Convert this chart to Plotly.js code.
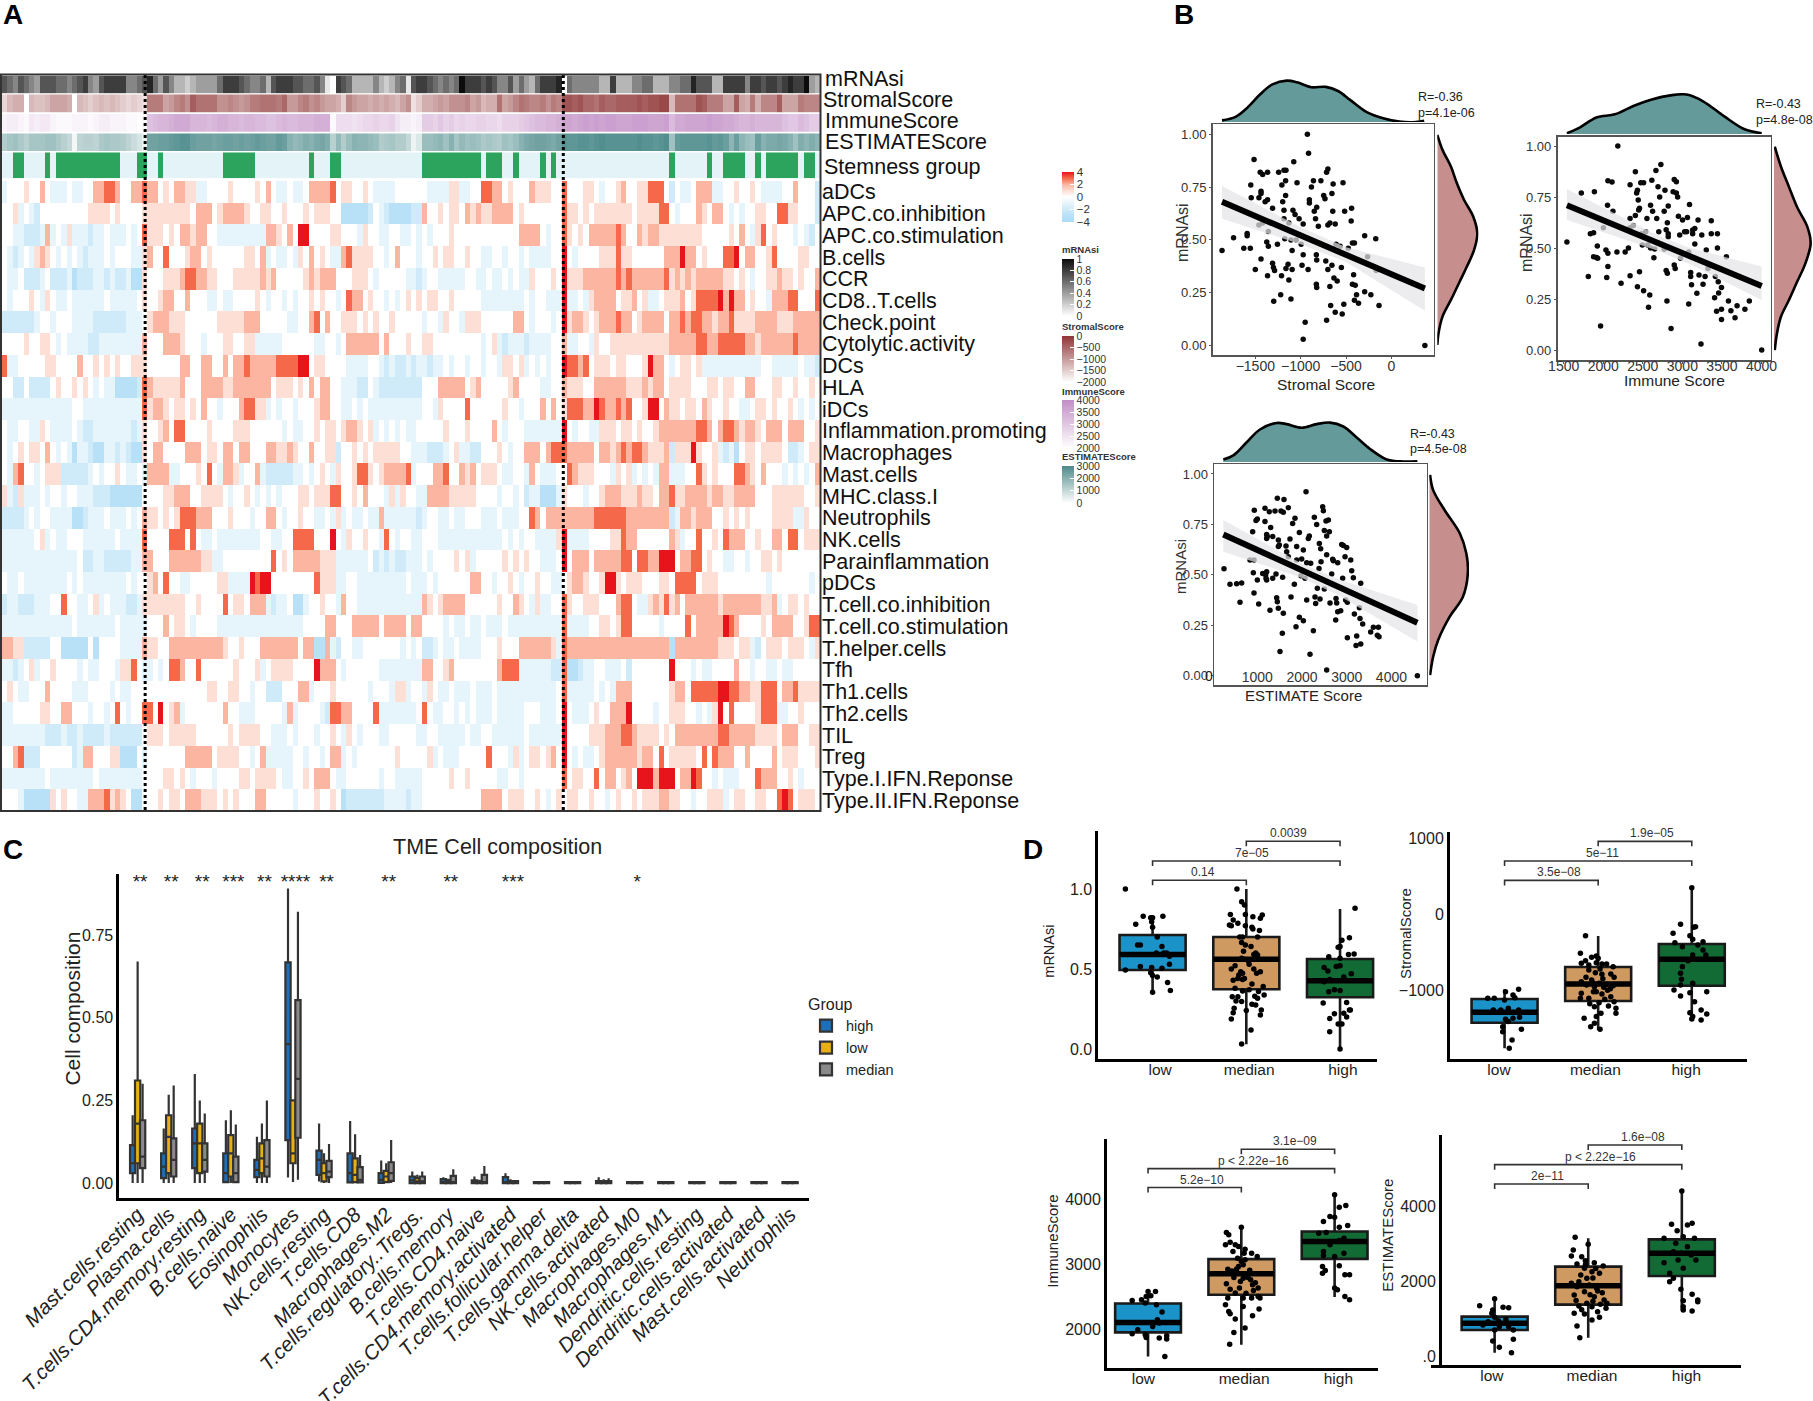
<!DOCTYPE html>
<html><head><meta charset="utf-8">
<script src="https://cdn.plot.ly/plotly-3.0.1.min.js"></script>
<style>html,body{margin:0;padding:0;background:#fff}</style></head>
<body><div id="chart" style="width:1813px;height:1401px"></div>
<script>
// ---------- Panel A: annotation rows (one value per sample) ----------
const mRNAsiTenths=[7,6,5,7,6,5,4,7,7,7, 6,6,5,6,7,8,5,4,7,8, 8,8,8,5,5,6,7,9,6,4, 7,5,3,3,2,3,4,4,4,4, 6,8,8,8,7,6,5,5,6,3, 7,8,8,8,7,7,6,6,7,5, 1,0,8,7,6,3,3,3,3,5, 3,2,3,5,6,1,7,8,8,7, 6,5,6,5,6,10,8,8,8,7, 8,7,5,5,7,4,6,4,3,6, 8,8,8,9,0,6,5,5,5,5, 5,3,3,8,3,3,3,5,5,6, 6,3,3,3,5,5,6,6,9,7, 7,7,3,3,8,8,8,8,5,8, 8,7,8,8,7,8,9,8,8,10,4,3];
const stromalHundreds=[-16,-13,-12,-12,-20,-13,-14,-14,-13,-11, -11,-11,-12,-20,-13,-14,-15,-14,-13,-14, -13,-14,-15,-16,-15,-16,-17,-7,-7,-7, -11,-10,-8,-7,-9,-4,-6,-6,-6,-6, -9,-9,-8,-9,-10,-9,-7,-7,-6,-6, -6,-7,-5,-10,-10,-8,-7,-9,-8,-10, -11,-11,-12,-15,-8,-10,-11,-11,-12,-11, -12,-11,-12,-13,-11,-9,-17,-15,-12,-12, -11,-10,-11,-9,-9,-9,-8,-11,-10,-13, -12,-12,-6,-11,-10,-8,-6,-7,-8,-8, -7,-9,-7,-8,-3,-3,-4,-3,-5,-5, -6,-4,-5,-5,-4,-4,-4,-4,-3,-4, -3,-3,-2,-2,-13,-6,-6,-6,-6,-3, -4,-7,-7,-7,-11,-11,-4,-11,-12,-7, -12,-8,-8,-8,-4,-11,-11,-11,-7,-8,-8,-8];
const immuneHundreds=[22,23,23,22,21,24,23,24,24,22, 21,21,21,22,22,22,21,22,23,23, 22,22,22,21,21,20,21,31,32,33, 33,34,35,35,35,33,33,33,32,33, 34,34,33,33,32,33,33,32,32,31, 31,32,33,32,32,33,33,33,34,34, 34,21,26,26,26,25,26,27,27,28, 27,27,28,25,23,23,22,23,29,29, 28,30,28,29,27,28,27,27,28,28, 27,27,26,28,28,28,29,30,31,32, 32,33,33,34,36,36,35,36,37,36, 37,36,37,37,36,36,36,37,37,37, 36,36,36,37,32,35,35,36,36,36, 36,37,36,36,35,35,34,33,33,34, 33,33,33,33,33,31,30,30,32,31,29,29];
const estimateHundreds=[13,15,16,14,12,15,15,15,16,16, 14,12,10,2,11,12,12,11,14,15, 14,14,13,11,9,7,3,24,24,25, 25,26,27,28,28,25,24,24,24,23, 24,25,25,24,25,24,25,26,25,24, 24,26,25,20,18,19,21,20,22,23, 21,12,18,13,17,20,19,19,18,17, 13,14,15,13,13,10,3,6,17,17, 18,19,16,20,15,18,16,17,16,14, 15,14,13,16,15,17,20,22,23,24, 24,23,22,24,28,27,27,28,28,27, 28,29,28,28,28,28,28,28,29,28, 28,27,28,29,16,26,27,27,27,27, 27,28,26,27,25,19,25,19,17,16, 25,20,22,22,23,22,20,16,21,19,21,19];
const stemnessGroup=[0,0,1,1,0,0,0,0,1,0, 1,1,1,1,1,1,1,1,1,1, 1,1,0,0,0,1,1,0,0,1, 0,0,0,0,0,0,0,0,0,0, 0,1,1,1,1,1,1,0,0,0, 0,0,0,0,0,0,0,1,0,0, 0,1,1,0,0,0,0,0,0,0, 0,0,0,0,0,0,0,0,1,1, 1,1,1,1,1,1,1,1,1,0, 1,1,1,0,0,1,0,0,0,0, 1,0,1,0,0,0,0,0,0,0, 0,0,0,0,0,0,0,0,0,0, 0,0,0,0,1,0,0,0,0,0, 0,1,0,0,1,1,1,1,0,0, 1,0,1,1,1,1,1,1,0,1,1,0];
// ---------- Panel A: main heatmap rows ----------
const rowLabels=["aDCs","APC.co.inhibition","APC.co.stimulation","B.cells","CCR","CD8..T.cells","Check.point","Cytolytic.activity","DCs","HLA","iDCs","Inflammation.promoting","Macrophages","Mast.cells","MHC.class.I","Neutrophils","NK.cells","Parainflammation","pDCs","T.cell.co.inhibition","T.cell.co.stimulation","T.helper.cells","Tfh","Th1.cells","Th2.cells","TIL","Treg","Type.I.IFN.Reponse","Type.II.IFN.Reponse"];
const aDCs=[-1,0,0,0,1,0,0,2,0,-1, -1,-1,0,-1,-1,0,0,2,2,3, 3,2,0,0,2,2,3,2,2,0, 1,0,2,2,1,1,-1,-1,0,0, 0,0,1,0,0,0,0,1,0,2, 0,-1,-1,0,-1,-1,0,2,2,2, 2,3,0,1,1,0,0,1,0,-1, -1,-1,-1,0,0,0,0,0,0,-1, -1,-1,-1,1,1,-1,-1,0,0,3, 3,2,2,0,1,0,0,0,2,1, 1,1,0,0,3,0,0,0,1,1, 0,-1,0,0,1,2,0,0,1,1, 3,3,3,0,-2,0,-1,-1,0,2, 2,2,-1,-1,0,0,1,0,0,1, 0,-1,-1,-1,-1,0,0,2,0,0,0,-2];
const APCinhibition=[0,0,1,-1,0,-1,-2,0,0,0, 0,0,0,0,0,0,1,1,1,1, 0,1,0,0,0,0,1,1,1,1, 1,1,1,1,1,0,2,2,2,0, 1,2,2,2,2,1,0,0,1,1, 0,0,1,0,0,0,1,0,1,1, 1,0,0,-3,-3,-3,-3,-3,-2,0, -1,-2,-3,-3,-3,-3,-2,-2,2,0, 0,1,0,1,1,0,2,1,2,1, 1,2,2,2,2,0,1,0,0,0, 0,0,0,0,3,1,1,0,1,0, 1,1,1,1,1,1,1,0,1,1, 1,1,3,3,0,-1,0,0,0,2, 1,0,2,2,0,-1,0,-1,0,0, 1,1,0,0,3,3,1,1,0,0,0,-2];
const APCstimulation=[0,0,-1,-1,-2,-2,-2,-1,2,-1, 0,-1,1,-1,-1,-1,-2,-1,-1,0, -1,-1,-1,0,-1,0,3,1,1,1, 0,1,0,2,2,1,2,2,0,0, -1,-1,-1,-1,-1,-1,-1,-1,-1,2, 2,1,0,2,0,4,4,0,0,0, 0,1,1,0,0,0,-1,1,0,0, -1,-1,0,0,-1,-1,0,-1,0,-1, 0,0,0,1,0,0,0,0,0,0, 0,0,0,0,0,0,2,2,2,2, 0,-1,0,0,3,1,0,1,0,2, 2,2,2,2,3,2,0,0,2,1, 2,2,1,1,1,1,1,1,1,1, 0,0,0,0,0,1,0,2,0,-1, 1,3,0,1,0,0,0,-1,0,-1,-2,0];
const Bcells=[0,-1,-2,-1,0,-1,1,2,1,0, -1,0,-1,0,-1,-2,-1,-1,-1,0, -1,0,0,0,-1,-1,1,2,0,0, 3,0,0,0,1,2,2,0,1,0, 0,0,0,0,0,1,1,0,2,-1, 0,-1,-1,0,-1,1,0,2,0,1, 0,-1,-1,2,3,1,1,1,1,0, 0,-1,0,2,0,0,0,-1,0,0, 1,0,1,1,0,0,1,0,0,-1, -1,0,0,-1,0,0,-1,0,-1,-1, -1,-1,0,0,4,0,-1,0,0,0, 0,1,1,1,3,1,1,0,0,0, 0,0,0,2,2,2,4,2,2,0, 1,0,0,0,3,3,4,0,2,2, 0,0,1,3,0,0,0,0,1,1,0,0];
const CCR=[0,-1,-1,0,-2,-2,-2,-1,0,-2, -2,-2,-1,-3,-2,-2,-2,-1,-1,-2, -1,-2,-2,-1,-3,-3,1,0,0,0, 1,1,1,2,3,3,2,2,1,1, 0,0,0,1,1,1,1,1,2,1, 2,0,0,0,0,0,1,2,1,2, 2,2,0,0,0,1,1,1,0,-1, 0,0,0,0,0,-1,-1,-2,-1,0, 0,-1,-1,-1,-1,-1,0,0,-1,-1, 0,-1,-1,0,-1,0,-1,-1,1,0, 0,0,1,0,4,1,1,1,2,2, 2,2,2,2,3,2,3,2,2,2, 2,2,2,3,1,2,1,2,1,2, 2,2,2,2,1,1,0,1,0,-1, 0,0,1,1,2,1,1,0,1,0,0,2];
const CD8Tcells=[0,-1,0,0,0,1,0,-1,1,0, -1,-1,0,-1,-1,-1,-1,-1,-1,0, -1,-1,-1,-1,-1,0,1,0,0,1, 2,2,0,0,2,0,0,0,-1,-1, 0,-1,-1,0,0,0,0,1,0,-1, 0,0,-1,0,-1,0,0,1,0,1, 0,0,-1,0,3,2,2,0,1,0, 0,-1,0,-1,0,1,0,1,0,1, 1,0,0,1,0,0,0,0,0,-1, -1,-1,-1,-1,-1,-1,-1,0,-1,0, 0,-1,-1,-1,4,-1,-1,0,-1,1, 2,2,2,2,0,1,1,2,0,1, -1,-1,0,1,1,1,2,0,1,3, 3,3,3,4,2,4,2,2,0,1, 0,0,-1,2,2,2,3,3,0,0,0,3];
const CheckPoint=[-2,-2,-2,-2,-2,-2,-1,0,0,-1, 0,0,0,-1,-1,-1,-1,-2,-2,-2, -2,-2,-2,-1,-1,-1,0,1,2,2, 2,1,1,1,0,0,0,0,0,0, 1,1,1,1,1,2,2,2,0,0, 0,0,0,-1,-1,0,0,2,3,0, 2,0,0,1,1,1,0,1,0,1, 0,0,1,0,0,0,0,0,-1,0, 0,-1,1,0,0,-1,1,1,1,0, 0,0,0,0,0,2,2,0,-1,0, 0,0,-1,0,4,1,2,2,1,0, 1,2,2,2,3,2,2,0,1,2, 2,2,2,0,2,2,3,2,3,3, 2,2,1,2,2,3,1,1,1,1, 2,2,2,2,1,1,1,2,2,2,2,2];
const Cytolytic=[0,0,0,0,1,0,0,1,1,0, -1,0,-1,-1,-1,-1,-2,-2,-1,-1, -1,-1,-1,-1,-1,-1,2,0,0,0, 2,2,2,1,0,0,0,-1,0,0, 0,1,1,0,0,1,1,-1,-1,-1, -1,-1,0,0,0,0,0,0,-1,-1, 0,0,-1,0,2,2,2,2,2,2, 0,2,0,0,0,1,0,0,1,1, 0,0,0,0,0,0,0,0,0,-1, 0,1,-1,-2,-1,-1,-1,-2,-1,-1, -1,-1,0,0,2,-1,-1,0,0,-1, 1,0,0,1,1,1,1,1,1,1, 1,1,1,1,2,2,2,2,2,3, 3,2,2,3,3,3,3,3,2,2, 1,2,2,2,2,2,2,3,2,2,2,2];
const DCs=[3,-1,-1,0,0,0,0,0,1,1, 0,0,0,0,2,0,0,1,0,1, 0,1,0,0,1,1,1,0,0,0, 0,0,0,2,2,0,0,2,2,0, 0,2,0,2,2,3,2,2,2,2, 2,3,3,3,3,4,4,0,1,1, 0,0,0,0,-1,-1,-1,-1,0,0, -1,-2,-1,-2,-2,-1,-2,-1,-1,-2, -1,-1,0,-1,0,0,-1,0,0,-1, 0,0,-1,1,1,0,1,-1,0,-1, 0,-1,0,0,4,3,3,2,3,0, 1,1,1,0,1,1,0,0,0,1, 4,2,2,0,-1,0,1,1,0,1, -1,-1,-1,-1,-1,-1,-1,-1,-1,-1, -1,0,0,-1,-1,-1,-1,-1,0,-1,-1,-2];
const HLA=[0,0,-2,-2,0,-2,-2,-2,-2,0, 1,0,0,1,0,1,0,-1,0,-1, -1,-3,-3,-3,-3,-2,3,2,1,1, 1,1,1,2,0,0,0,2,2,2, 2,1,1,2,2,2,2,2,2,2, 0,1,1,1,0,1,0,2,0,2, 2,0,0,-1,-1,-1,-2,-2,0,-1, -2,-2,-2,-2,-2,-2,-2,-2,0,0, 0,2,2,2,2,2,0,1,2,0, 0,0,0,0,1,2,0,0,0,0, -1,-1,0,0,2,1,1,1,0,0, 2,2,2,2,2,2,1,1,1,2, 1,2,2,0,1,1,1,1,0,0, 0,1,1,0,1,1,0,0,2,2, 0,0,0,1,1,0,0,1,0,0,1,0];
const iDCs=[-1,-1,-1,-1,-1,-1,-1,-1,-1,-1, -1,-1,-1,0,0,-1,-1,-1,-1,-1, -1,-1,-1,-1,-1,-1,3,1,2,2, 1,0,1,1,0,1,0,2,0,0, -1,0,0,0,2,3,3,1,1,-1, 0,-1,0,0,-1,0,0,0,1,2, 2,0,0,-1,-1,0,-1,0,-1,-1, -1,-1,-1,-1,-1,-1,-1,-1,0,0, -1,1,0,0,0,0,3,0,0,0, 0,0,0,1,0,0,-1,0,0,0, 2,0,2,0,1,3,3,3,2,2, 4,3,2,2,3,2,3,0,0,1, 4,4,0,2,1,1,0,1,1,0, 2,1,0,0,1,0,0,-1,-1,0, 1,1,0,1,0,0,1,0,-1,0,-1,0];
const InflammationPromoting=[0,-1,-1,0,0,-1,-1,1,0,-1, -1,-1,-1,0,-1,-2,-2,-1,-1,-1, -1,-1,-1,-1,-2,-1,1,0,0,1, 2,0,3,3,0,0,0,0,1,0, 0,0,0,1,1,1,0,0,0,0, 0,0,-1,0,-1,-1,0,0,1,0, 1,1,0,1,2,2,1,0,1,-1, 0,-1,0,-1,0,-1,-1,0,0,0, 0,0,1,0,0,0,1,0,0,0, 0,2,0,-1,0,0,0,-1,-1,-1, -1,-1,-1,-1,4,0,-1,0,0,-1, -1,1,1,1,0,1,1,0,1,0, 0,1,2,2,2,2,2,2,2,3, 3,2,0,2,3,3,2,1,2,2, 1,0,2,2,2,0,2,2,2,0,0,1];
const Macrophages=[0,-1,0,1,0,1,1,0,2,0, -1,0,-1,-3,-1,-1,-2,-3,-3,-1, -1,-2,-1,-2,-3,-3,1,0,2,2, 0,0,0,0,2,2,2,0,1,1, 0,2,2,0,2,2,0,0,0,2, 2,1,1,2,1,0,0,2,0,0, 1,1,-2,0,0,1,0,1,0,1, 1,1,1,1,0,0,-1,-1,-1,-2, -2,-2,-1,0,1,-1,-1,-2,-2,0, 0,0,1,0,-1,0,0,2,2,2, 0,2,3,3,3,2,2,2,2,2, 0,2,2,1,2,3,2,3,3,2, 1,1,1,2,-2,1,1,1,4,1, 0,0,1,-1,-2,-1,-3,0,1,1, 0,1,1,1,1,0,-2,-2,-1,0,1,1];
const MastCells=[0,-1,2,3,0,0,-1,0,1,1, 1,-2,-2,-2,-2,-2,-1,0,-1,0, 0,1,0,-1,-1,0,-1,2,2,2, 2,-1,-1,0,0,0,1,0,3,0, -1,2,2,1,-1,0,0,2,-1,-2, -2,-2,-2,-2,-1,-1,0,-1,0,1, 0,-1,1,0,0,1,3,3,1,0, 1,2,2,2,2,3,-1,0,0,0, 2,2,3,0,0,2,1,2,0,1, 1,1,0,-1,-1,0,0,-1,2,0, -1,-1,-1,0,0,3,2,1,1,1, 0,0,0,-1,1,0,1,-1,0,-1, 0,-1,2,2,-1,-1,-1,0,0,3, 1,0,1,0,0,0,3,3,2,1, 0,2,0,0,0,-1,0,-1,0,-1,0,2];
const MHCclassI=[1,-1,-2,1,-1,-1,-1,0,-1,0, 0,-1,0,0,-1,-1,-1,-2,-2,-2, -3,-3,-3,-3,-3,-3,0,0,0,0, 1,1,2,2,2,0,0,1,1,1, 1,0,-1,0,0,1,0,-1,0,-1, 0,-1,0,0,0,1,1,0,1,1, 1,3,3,0,0,1,0,2,0,0, 0,-1,1,-1,1,0,0,-1,-1,2, 2,2,2,1,1,1,1,1,0,0, 0,0,-1,0,0,-1,0,-2,-1,-1, -3,-3,-3,-1,1,0,0,0,-1,0, 0,1,2,2,2,1,1,1,2,1, 1,0,2,2,3,1,1,2,2,2, 2,1,2,2,1,1,2,2,2,2, 0,0,0,1,1,1,1,1,1,0,0,1];
const Neutrophils=[-2,-2,-2,-2,-1,0,-1,0,0,-1, -1,-1,-1,-3,-3,-2,-1,-1,-1,0, -1,-1,-1,0,-1,0,2,1,1,0, 1,0,1,3,3,3,2,2,2,0, 0,0,1,0,0,0,-1,0,0,2, 2,0,-1,0,0,1,0,0,-1,-1, 0,-1,1,-1,0,-1,-1,0,-1,-1, 2,-1,-1,-1,-1,-1,-1,-2,-1,0, 0,-1,-1,0,-1,-1,0,0,0,-1, -1,-1,0,-1,-1,-1,0,0,3,2, 0,2,2,2,2,2,2,2,2,2, 3,3,3,3,3,3,2,2,2,2, 2,2,2,2,-2,-1,2,2,1,2, 2,2,0,0,1,0,1,0,1,0, 0,0,0,1,1,1,1,-1,-1,1,0,0];
const NKcells=[-1,-1,-1,-1,-1,-1,0,1,-1,0, -1,-1,0,0,0,-1,-1,-1,-1,-1, -1,0,-1,-1,-1,-1,3,0,0,0, 0,3,3,3,0,3,0,-1,-1,0, -1,-1,-1,-1,-1,-1,-1,-1,0,0, -1,-1,0,0,3,3,3,3,0,0, 0,4,0,-1,1,0,0,1,0,0, -1,3,0,-1,0,0,-1,-1,0,0, 0,-1,-1,-1,-1,-1,-1,-1,-1,-1, -1,-1,-1,0,-1,0,-1,0,0,-1, -1,-1,-1,1,4,-1,-1,-1,-1,0, 0,0,0,1,1,3,2,2,0,0, 0,0,0,0,2,1,-1,0,0,3, 0,0,1,0,3,2,2,2,0,0, 1,0,0,2,2,0,3,3,0,1,1,1];
const Parainflammation=[-1,-1,-1,-1,-1,-1,-1,-1,-1,-1, -1,-1,-1,-1,0,-2,-2,-1,-1,-2, -2,-2,-2,-2,-1,-1,2,2,0,0, 0,2,2,2,2,2,2,1,1,-1, -1,0,0,0,0,0,0,0,0,0, 3,0,1,0,2,2,2,2,2,1, 1,1,-1,-1,-1,-1,-1,-1,0,-2, -1,-2,-1,-2,-2,-1,-1,-1,0,-1, 0,0,0,0,1,0,1,-1,0,0, 0,0,0,1,0,1,0,1,0,0, -1,-1,-1,0,4,0,2,2,2,0, 2,2,2,2,2,3,3,0,3,3, 2,2,4,4,4,0,2,2,3,3, 0,1,0,0,-1,-1,0,0,-1,0, 0,1,1,0,1,0,0,0,0,0,0,0];
const pDCs=[0,-1,-1,0,-1,-1,-1,-1,-1,-1, -1,-1,0,-1,0,-1,-1,-1,-1,-1, -1,-1,-1,0,-1,0,0,1,2,0, 3,0,0,-1,-1,0,0,0,0,0, 1,1,-1,-1,-1,-1,4,3,4,4, 0,0,0,0,0,0,0,0,3,1, 1,1,-1,-1,0,0,-1,-1,-1,-1, -1,-1,-1,-1,-1,0,-1,-1,-1,0, -1,0,0,0,0,0,0,2,2,0, 0,-1,0,0,1,0,-1,0,0,1, 0,0,-1,-1,0,1,2,2,1,0, 0,1,4,4,1,0,1,1,1,0, 0,0,1,1,0,3,3,3,3,0, 1,1,1,0,0,0,0,0,0,0, 0,0,-1,0,0,0,0,0,0,0,-1,0];
const TcellInhibition=[-2,-1,-1,-2,-2,-2,-1,-1,-1,0, 0,3,0,0,-1,-1,0,1,-1,0, -1,-1,-1,-2,-2,-1,1,1,1,1, 1,1,1,1,0,0,1,0,0,0, 0,3,0,1,1,0,2,2,2,-1, -2,-1,-1,0,-3,-3,-1,0,0,1, 0,0,-1,2,0,0,-1,-1,-1,-1, -1,-1,-1,-1,-1,-1,-1,-1,2,1, 0,1,2,2,2,2,0,0,0,0, 0,0,1,0,0,2,1,0,-1,1, -1,-1,0,0,3,1,0,0,1,1, 1,0,0,0,2,3,3,0,-1,-1, 1,2,1,3,1,2,0,2,2,2, 2,2,2,1,2,2,2,2,2,2, 2,1,1,2,-1,0,1,1,0,1,0,0];
const TcellStimulation=[-1,-1,-1,-1,-1,-1,-1,-1,-1,-1, -1,-1,-1,0,-1,-1,-1,-1,-1,-1, -1,0,-1,-1,-1,-1,-1,0,0,0, 2,0,1,1,0,-1,0,0,0,0, -1,-1,-1,-1,-1,-1,-1,-1,-1,-1, -1,-1,-1,-1,-1,-1,0,0,0,0, 2,2,0,0,0,2,2,2,2,2, 0,2,2,2,2,0,2,2,0,0, 0,0,-1,0,-1,-1,0,-1,-1,0, -1,-1,-1,0,-1,-1,-1,-1,-1,-1, -1,-1,-1,-1,3,-1,-1,-1,-1,0, 0,1,1,0,1,3,3,0,0,0, 0,0,-1,0,0,0,0,3,0,2, 2,2,2,2,4,3,2,0,0,0, 0,1,0,2,2,2,2,0,0,1,3,3];
const ThelperCells=[2,2,1,1,-2,-2,-2,-2,-2,0, 0,-3,-3,-3,-3,-3,0,-3,0,0, 0,0,-1,-1,-1,-1,2,1,1,0, 0,2,2,2,2,2,2,2,2,2, 2,1,0,0,1,0,0,0,2,2, 2,2,2,2,2,0,2,2,-3,-3, 2,-1,-2,0,0,-1,-1,0,0,0, 0,0,0,0,-1,0,-1,0,-2,-2, -1,0,-1,-1,0,-1,-1,-1,-1,0, 0,0,1,0,0,0,2,2,2,2, 2,2,1,-1,3,2,2,2,2,2, 2,2,2,2,2,2,2,2,2,2, 2,2,2,2,-3,2,2,2,2,2, 2,2,2,1,1,1,0,1,1,-1, -2,0,1,1,1,0,1,1,1,0,-1,1];
const Tfh=[-1,-1,-2,-1,0,1,-1,0,0,1, 0,0,0,0,-1,0,-1,-1,0,0, 0,-1,1,1,3,0,-1,-1,0,-1, 0,3,3,2,0,0,3,0,0,0, 0,0,0,1,0,0,0,1,-1,0, 1,1,1,1,0,0,0,0,4,2, 2,2,0,-1,0,0,0,0,0,0, -1,-1,-1,-1,-1,-1,-1,-1,2,2, 0,0,1,2,0,0,0,0,0,0, 0,0,2,3,3,3,-1,-1,-1,-1, -1,-1,-2,-2,3,-3,-3,-2,-1,-1, 0,0,-1,-1,-1,0,-2,0,0,0, 0,0,0,0,4,0,0,0,-1,0, -1,-1,0,0,0,0,2,0,0,-1, 0,0,-1,-1,0,-1,-1,0,0,0,0,0];
const Th1cells=[0,1,0,-1,-1,0,0,0,2,0, 0,0,0,-1,-1,-1,0,0,0,0, -1,0,-1,-1,0,0,0,0,0,0, 0,0,0,0,0,0,0,0,1,1, 0,0,1,1,0,0,-1,0,0,-2, -2,-2,0,0,0,2,2,-1,0,0, 0,1,0,0,0,0,0,0,-1,0, 0,0,-1,1,1,-1,0,0,-1,1, 0,-1,-1,0,-1,-1,-1,0,-1,-1, -1,0,-1,-1,-1,-1,-1,-1,-1,-1, -1,-1,-1,0,3,-1,-1,-1,-1,-1, 0,-1,0,-1,2,2,2,0,0,0, 0,0,0,0,1,2,2,0,3,3, 3,3,3,4,4,3,3,2,2,1, 1,3,3,3,0,2,2,3,1,1,1,1];
const Th2cells=[-1,-1,0,0,0,0,0,1,1,0, 0,2,2,0,0,0,-1,0,0,-1, 0,3,0,-1,0,0,3,3,0,4, 0,1,2,-1,0,0,0,0,0,0, 0,2,0,0,-1,-1,-1,0,0,0, 0,0,-1,2,-1,0,0,0,0,-1, -2,3,3,2,2,0,0,0,0,3, -1,-1,-1,-1,-1,-1,-1,0,3,0, -1,-1,0,0,-1,0,-1,0,-1,-1, -1,0,-1,-1,-1,-1,-1,0,0,0, -1,-1,-1,0,4,0,-1,-1,-1,0, 1,0,0,2,2,2,4,0,0,0, 0,-1,0,0,1,1,1,0,0,-1, 0,-1,1,4,0,3,0,0,0,0, 1,3,3,3,-1,-1,0,0,1,0,0,0];
const TIL=[-1,-1,-1,-1,-1,-1,-1,-1,-2,-2, -2,-1,-2,-2,-1,-2,-2,-2,-2,-1, -2,-2,-2,-2,-2,-2,0,1,1,1, 0,1,1,1,1,1,0,0,0,0, 0,0,1,0,1,1,1,1,0,0, -1,-1,-1,0,-1,0,0,0,-1,0, 0,1,0,-1,1,0,-1,0,0,0, -1,-1,0,0,0,0,0,-1,-1,0, 0,-1,-1,-1,-1,-1,0,-1,-1,0, 0,-1,-1,-1,-1,-1,-1,0,-1,-1, -1,-1,-1,-1,4,0,0,0,0,1, 1,1,2,2,2,3,3,2,1,1, 1,1,0,1,0,2,2,2,2,2, 2,2,2,3,3,2,2,2,2,2, 1,1,1,1,0,2,2,2,0,0,1,1];
const Treg=[0,0,2,3,-2,-2,-2,0,0,0, 0,0,0,-2,-1,2,2,0,0,0, 1,1,-3,-3,-3,0,-1,0,0,0, 0,0,0,0,2,2,2,2,2,0, 1,1,1,1,0,0,-1,0,2,-1, -1,-1,-1,-1,0,0,-1,0,0,-1, 0,2,2,-1,0,-1,0,0,0,0, 0,0,0,1,0,0,0,0,0,1, -1,0,-1,-1,-1,0,0,0,0,0, 3,0,0,0,-1,1,-1,0,1,1, 0,1,2,0,4,0,-1,0,-1,-1, 0,1,2,2,2,2,2,2,1,2, 2,0,3,0,1,1,1,1,1,0, 3,0,3,2,2,2,0,0,2,0, 0,0,0,2,0,1,1,1,0,0,0,1];
const TypeIIFN=[-1,-1,-1,-1,-1,-1,-1,-1,0,-1, -1,-1,-1,-1,-1,-1,-1,0,-1,-1, -1,-1,-1,-1,-1,-1,0,0,0,0, 1,1,0,1,0,-1,0,0,0,-1, 0,0,0,0,1,1,0,1,1,1, 1,0,-1,-1,0,0,1,0,2,2, 2,0,-1,-1,0,0,0,0,0,0, -1,0,0,-1,-1,-1,-1,-1,0,0, 0,0,0,1,0,0,1,0,0,0, 0,0,-1,-1,0,0,-1,0,0,0, 0,0,0,0,3,0,1,1,0,0, 3,0,2,2,0,1,2,0,4,4, 4,2,4,4,4,0,2,2,4,3, 0,0,-1,0,-1,-1,-1,0,0,0, 3,2,2,2,0,0,1,0,-1,0,0,0];
const TypeIIIFN=[0,0,0,-1,-3,-3,-3,-3,-3,1, 0,1,0,0,-1,-1,2,2,2,3, 1,2,1,0,-3,-3,0,0,0,1, 0,1,1,0,2,2,2,1,1,1, 0,1,0,1,0,0,0,2,2,0, 0,0,0,0,-1,0,0,0,1,0, 0,1,0,-3,-2,-2,-2,-2,-2,-2, -2,-1,-1,-1,-1,-2,-1,-1,0,0, 0,0,0,0,0,0,0,0,0,2, 2,2,2,0,1,1,1,0,0,1, 0,-1,0,1,0,1,1,0,0,1, 0,0,-1,0,1,0,0,1,0,1, 1,1,2,2,1,1,0,0,-1,0, 0,1,1,1,-1,0,1,1,0,0, 1,1,0,0,3,4,3,0,1,1,1,0];
// ---------- Panel B: scatter points [score, mRNAsi] ----------
const stromalPts=[[-1867,.45],[-1740,.51],[-1627,.46],[-1590,.53],[-1590,.52],[-1555,.46],[-1550,.76],[-1545,.7],[-1514,.88],[-1500,.36],[-1460,.7],[-1460,.57],[-1437,.72],[-1437,.73],[-1446,.82],[-1419,.81],[-1419,.58],[-1437,.41],[-1365,.82],[-1365,.33],[-1356,.54],[-1374,.49],[-1356,.47],[-1392,.68],[-1365,.69],[-1310,.65],[-1310,.39],[-1300,.37],[-1297,.21],[-1288,.355],[-1256,.48],[-1243,.82],[-1220,.24],[-1211,.33],[-1207,.76],[-1184,.83],[-1166,.71],[-1162,.83],[-1166,.78],[-1198,.68],[-1184,.64],[-1184,.6],[-1175,.505],[-1162,.365],[-1130,.31],[-1139,.385],[-1130,.58],[-1107,.22],[-1107,.5],[-1094,.36],[-1085,.64],[-1076,.87],[-1094,.45],[-1062,.62],[-1040,.77],[-1049,.5],[-1017,.6],[-994,.48],[-985,.38],[-972,.03],[-972,.43],[-972,.575],[-950,.11],[-926,1],[-913,.91],[-918,.36],[-904,.69],[-904,.675],[-881,.75],[-859,.78],[-850,.635],[-836,.6],[-823,.655],[-827,.43],[-823,.405],[-827,.29],[-823,.275],[-805,.565],[-777,.78],[-746,.71],[-732,.695],[-714,.82],[-700,.835],[-714,.12],[-723,.4],[-700,.57],[-678,.58],[-700,.36],[-678,.28],[-669,.19],[-655,.72],[-642,.765],[-646,.635],[-619,.575],[-619,.158],[-633,.32],[-610,.48],[-597,.305],[-655,.38],[-565,.47],[-542,.15],[-533,.77],[-524,.195],[-515,.635],[-551,.37],[-438,.65],[-443,.59],[-429,.485],[-407,.485],[-416,.335],[-429,.29],[-398,.285],[-384,.24],[-407,.215],[-362,.2],[-475,.46],[-294,.52],[-294,.255],[-226,.24],[-262,.42],[-172,.505],[-136,.19],[-167,.355],[370,0]];
const immunePts=[[1541,.53],[1723,.77],[1811,.36],[1837,.57],[1878,.575],[1888,.776],[1878,.457],[1914,.454],[1925,.51],[1930,.45],[1966,.118],[2002,.6],[2034,.49],[2044,.355],[2054,.71],[2059,.83],[2059,.41],[2059,.474],[2111,.824],[2122,.68],[2184,1],[2173,.48],[2225,.327],[2277,.48],[2318,.5],[2339,.81],[2339,.364],[2339,.645],[2339,.6],[2406,.874],[2406,.66],[2380,.61],[2422,.77],[2432,.784],[2442,.735],[2432,.31],[2458,.384],[2458,.695],[2448,.686],[2474,.82],[2510,.29],[2484,.57],[2510,.82],[2494,.515],[2536,.58],[2562,.515],[2552,.645],[2572,.21],[2588,.27],[2598,.71],[2598,.5],[2614,.833],[2624,.68],[2640,.453],[2650,.495],[2666,.88],[2676,.645],[2692,.8],[2702,.58],[2728,.91],[2713,.75],[2770,.68],[2780,.784],[2795,.59],[2770,.494],[2795,.39],[2810,.376],[2810,.624],[2821,.57],[2821,.555],[2805,.24],[2821,.706],[2857,.106],[2883,.776],[2897,.836],[2924,.825],[2924,.77],[2940,.75],[2909,.4],[2897,.417],[2950,.656],[2966,.564],[2976,.45],[3002,.637],[3028,.58],[3054,.58],[3064,.65],[3090,.714],[3080,.48],[3080,.225],[3105,.38],[3105,.36],[3130,.588],[3130,.57],[3157,.596],[3116,.32],[3157,.52],[3183,.278],[3198,.637],[3210,.368],[3235,.03],[3245,.564],[3261,.323],[3287,.36],[3302,.49],[3365,.634],[3365,.57],[3323,.4],[3417,.36],[3407,.256],[3443,.57],[3443,.5],[3453,.335],[3458,.28],[3494,.307],[3556,.457],[3432,.19],[3494,.2],[3494,.15],[3582,.24],[3613,.193],[3665,.158],[3691,.217],[3790,.2],[3846,.24],[4002,0]];
const estimatePts=[[254,.53],[388,.453],[537,.456],[649,.46],[612,.364],[895,.714],[836,.573],[925,.573],[932,.82],[970,.77],[1000,.777],[910,.51],[925,.41],[1030,.355],[1000,.474],[1119,.507],[1171,.764],[1171,.83],[1268,.813],[1208,.7],[1223,.69],[1208,.68],[1208,.515],[1186,.5],[1194,.483],[1208,.474],[1298,.735],[1343,.69],[1343,.483],[1283,.325],[1417,.504],[1395,.816],[1447,.88],[1470,.673],[1470,.64],[1492,.648],[1432,.387],[1447,.367],[1470,.334],[1596,.874],[1529,.816],[1581,.81],[1693,.833],[1566,.488],[1581,.31],[1559,.21],[1507,.12],[1641,.643],[1656,.615],[1693,.59],[1730,.678],[1753,.39],[1790,.755],[1842,.78],[1880,.64],[1828,.453],[1880,.573],[1940,.29],[1865,.243],[1940,.71],[1992,.578],[1977,.496],[2029,.623],[2029,.273],[2066,.483],[2089,.912],[2104,.56],[2104,.375],[2141,.68],[2163,.693],[2193,.557],[2178,.107],[2253,.223],[2275,.785],[2327,.75],[2305,.358],[2342,.433],[2290,.39],[2387,.656],[2380,.532],[2417,.63],[2425,.565],[2402,.38],[2462,.838],[2477,.818],[2499,.72],[2499,.43],[2551,.028],[2536,.767],[2589,.772],[2551,.693],[2611,.714],[2551,.6],[2626,.36],[2663,.504],[2686,.577],[2700,.57],[2760,.383],[2753,.276],[2798,.56],[2775,.36],[2798,.317],[2865,.322],[2909,.483],[2887,.65],[2924,.645],[2999,.635],[2962,.59],[2976,.375],[3014,.364],[3014,.188],[3111,.52],[3089,.573],[3148,.486],[3171,.306],[3223,.197],[3208,.15],[3313,.157],[3297,.284],[3283,.337],[3313,.458],[3357,.256],[3536,.217],[3596,.24],[3708,.24],[3685,.2],[3723,.193],[4580,0]];
// regression line and ribbon [score, fit, upper, lower]
const stromalFit=[[-1867,.68,.755,.6],[-1000,.521,.56,.48],[-500,.43,.465,.395],[370,.27,.37,.165]];
const immuneFit=[[1541,.71,.79,.637],[2700,.523,.56,.485],[3100,.46,.5,.42],[4002,.314,.41,.245]];
const estimateFit=[[239,.7,.772,.615],[2000,.52,.555,.485],[2800,.44,.48,.4],[4580,.263,.35,.17]];
// marginal densities [score, height] and [mRNAsi, height]
const stromalTop=[[-1867,.04],[-1718,.125],[-1582,.36],[-1446,.67],[-1311,.91],[-1153,1],[-1040,.96],[-881,.84],[-723,.85],[-588,.75],[-452,.53],[-271,.24],[-90,.09],[90,.01],[271,0],[362,.03]];
const stromalSide=[[.997,0],[.926,.13],[.847,.34],[.768,.49],[.689,.67],[.61,.9],[.53,1],[.453,.92],[.374,.74],[.295,.54],[.216,.34],[.137,.13],[.058,.03],[.003,0]];
const immuneTop=[[1541,.02],[1707,.17],[1914,.42],[2148,.5],[2381,.71],[2614,.875],[2847,.98],[3054,1],[3261,.83],[3520,.46],[3779,.125],[4002,.02]];
const immuneSide=[[.997,.02],[.9,.185],[.8,.4],[.7,.62],[.605,.89],[.523,.98],[.425,.84],[.327,.6],[.245,.4],[.163,.185],[.082,.08],[0,.02]];
const estimateTop=[[239,.065],[463,.17],[761,.5],[1059,.825],[1432,.99],[1656,.96],[1992,.87],[2327,.96],[2626,1],[2924,.9],[3223,.62],[3521,.33],[3894,.065],[4193,.016],[4580,.016]];
const estimateSide=[[.995,.02],[.92,.1],[.82,.4],[.706,.79],[.607,.96],[.507,1],[.39,.87],[.293,.53],[.177,.23],[.094,.1],[.003,.02]];
// ---------- Panel C ----------
const cellTypes=["Mast.cells.resting","Plasma.cells","T.cells.CD4.memory.resting","B.cells.naive","Eosinophils","Monocytes","NK.cells.resting","T.cells.CD8","Macrophages.M2","T.cells.regulatory..Tregs.","B.cells.memory","T.cells.CD4.naive","T.cells.CD4.memory.activated","T.cells.follicular.helper","T.cells.gamma.delta","NK.cells.activated","Macrophages.M0","Macrophages.M1","Dendritic.cells.resting","Dendritic.cells.activated","Mast.cells.activated","Neutrophils"];
const stars=["**","**","**","***","**","****","**","","**","","**","","***","","","","*","","","","",""];
const highQ1=[.03,.015,.045,.003,.018,.13,.025,.002,.001,0,0,0,0,0,0,0,0,0,0,0,0,0];
const highMed=[.06,.05,.12,.03,.04,.42,.07,.03,.01,.008,.002,0,.002,0,0,0,0,0,0,0,0,0];
const highQ3=[.115,.09,.165,.09,.07,.667,.098,.09,.03,.02,.012,.008,.018,.003,.003,.006,.003,.003,.003,.003,.003,.003];
const highLo=[0,0,0,0,0,.017,.005,0,0,0,0,0,0,0,0,0,0,0,0,0,0,0];
const highHi=[.205,.165,.33,.19,.14,.89,.18,.188,.068,.035,.018,.02,.03,.005,.005,.018,.005,.005,.005,.005,.005,.005];
const lowQ1=[.06,.03,.03,.02,.03,.06,.005,.003,.003,0,0,0,0,0,0,0,0,0,0,0,0,0];
const lowMed=[.18,.14,.12,.09,.075,.09,.03,.025,.02,.005,0,0,0,0,0,0,0,0,0,0,0,0];
const lowQ3=[.31,.205,.18,.145,.12,.25,.06,.075,.037,.015,.008,.005,.006,.003,.003,.005,.003,.003,.003,.003,.003,.003];
const lowLo=[0,0,0,0,0,.003,0,0,0,0,0,0,0,0,0,0,0,0,0,0,0,0];
const lowHi=[.67,.267,.25,.22,.18,.25,.09,.148,.06,.025,.013,.01,.012,.005,.005,.012,.005,.005,.005,.005,.005,.005];
const medianQ1=[.045,.02,.035,.003,.02,.137,.018,.002,.007,0,0,0,0,0,0,0,0,0,0,0,0,0];
const medianMed=[.08,.07,.07,.03,.05,.315,.035,.01,.03,.005,.002,.002,0,0,0,0,0,0,0,0,0,0];
const medianQ3=[.19,.135,.12,.08,.13,.553,.067,.048,.063,.02,.022,.025,.006,.003,.003,.006,.003,.003,.003,.003,.003,.003];
const medianLo=[0,0,0,0,0,.01,0,0,0,0,0,0,0,0,0,0,0,0,0,0,0,0];
const medianHi=[.3,.295,.21,.177,.25,.82,.118,.085,.13,.035,.042,.052,.008,.005,.005,.015,.005,.005,.005,.005,.005,.005];
// ---------- Panel D: boxes [lowerfence,q1,median,q3,upperfence] for low, median, high ----------
const groups=["low","median","high"];
const d1Boxes=[[.36,.494,.59,.7125,.83],[.03,.373,.56,.7,1],[0,.323,.427,.5625,.875]];
const d2Boxes=[[-1767,-1429,-1292,-1117,-989],[-1525,-1143,-919,-695,-286],[-1393,-941,-593,-391,365]];
const d3Boxes=[[1592,1959,2112,2403,2597],[1770,2535,2857,3081,3571],[2500,3086,3352,3505,4066]];
const d4Boxes=[[107,711,889,1067,1556],[507,1387,1893,2400,3156],[1244,2151,2756,3129,4418]];
// jittered points [offset from box centre, value]
const d1Low=[[-.29,1],[-.1,.83],[-.02,.82],[0,.82],[.11,.83],[-.18,.78],[-.01,.795],[0,.76],[.05,.7],[-.16,.65],[-.13,.65],[.1,.64],[.04,.6],[.12,.6],[.15,.6],[.18,.58],[.18,.53],[-.13,.515],[-.01,.51],[.1,.504],[-.02,.477],[0,.46],[.05,.45],[.16,.415],[.19,.365],[0,.355],[-.29,.494]];
const d1Median=[[-.1,1],[-.05,.92],[-.02,.9],[-.01,.84],[-.17,.84],[-.09,.785],[-.14,.806],[.07,.827],[.17,.837],[.15,.817],[-.18,.775],[-.16,.77],[-.01,.77],[.06,.76],[.07,.75],[-.04,.7],[.12,.7],[-.05,.665],[-.01,.65],[-.03,.61],[.08,.59],[.12,.587],[-.05,.567],[.02,.552],[-.16,.5],[-.06,.483],[-.04,.473],[-.08,.4625],[.15,.483],[.11,.473],[-.04,.435],[-.09,.44],[.06,.406],[.18,.39],[-.12,.38],[.03,.37],[-.04,.3625],[-.15,.327],[-.09,.327],[.19,.3375],[.12,.317],[-.05,.296],[.06,.28],[.1,.275],[-.13,.254],[.16,.244],[.15,.2125],[-.14,.227],[-.16,.1875],[.05,.119],[-.05,.031],[-.03,.56],[.03,.53],[.1,.6],[-.12,.52],[.05,.64],[-.07,.7],[.14,.74],[-.02,.44],[.08,.5],[-.14,.43],[.13,.36],[-.11,.3],[0,.24],[.09,.33]];
const d1High=[[.16,.88],[0,.64],[-.02,.635],[.1,.695],[.02,.68],[-.12,.577],[.09,.59],[.15,.594],[0,.567],[-.17,.51],[-.13,.4875],[-.04,.515],[0,.52],[.12,.47],[.04,.45],[-.11,.435],[-.17,.42],[-.06,.37],[0,.365],[-.12,.358],[-.18,.2875],[.07,.29],[.1,.244],[.11,.244],[-.06,.22],[.04,.223],[-.11,.19],[.07,.2],[-.02,.156],[.02,.156],[-.11,.108],[0,0]];
const d2Low=[[.15,-989],[.01,-1020],[.09,-1064],[.11,-1099],[-.18,-1108],[-.11,-1108],[0,-1130],[.04,-1240],[.15,-1262],[-.04,-1262],[.01,-1385],[.09,-1372],[.16,-1358],[.04,-1415],[-.02,-1481],[.18,-1517],[-.02,-1547],[.08,-1657],[.05,-1767],[-.12,-1262]];
const d2Median=[[-.135,-281],[-.19,-514],[-.02,-550],[-.07,-567],[0,-580],[-.135,-611],[-.18,-646],[-.1,-668],[.04,-655],[.09,-655],[.16,-690],[-.1,-734],[-.03,-769],[.04,-791],[.135,-787],[.17,-831],[-.07,-866],[-.18,-888],[.01,-910],[-.125,-932],[.09,-923],[-.04,-954],[.16,-941],[-.18,-1042],[-.02,-1020],[.04,-1051],[-.1,-1108],[-.19,-1108],[.135,-1086],[.17,-1152],[-.04,-1218],[.01,-1165],[.19,-1240],[.19,-1306],[.03,-1306],[-.15,-1372],[-.02,-1349],[-.04,-1437],[-.08,-1481],[.02,-1517],[-.06,-900],[.05,-850],[.1,-1000],[-.13,-830],[.02,-720],[-.09,-1180],[.07,-1120],[.13,-980],[-.02,-640],[.11,-1210],[-.05,-1020],[.06,-960]];
const d2High=[[0,352],[-.12,-132],[.02,-171],[.04,-163],[-.2,-251],[-.02,-281],[.01,-330],[-.18,-374],[.12,-360],[.065,-404],[-.1,-426],[.12,-470],[.01,-536],[.15,-536],[-.04,-611],[-.1,-690],[-.12,-778],[-.11,-857],[.01,-910],[-.12,-932],[-.19,-998],[.16,-1020],[-.02,-1033],[-.12,-1077],[.03,-1152],[-.02,-1297],[.1,-1262],[.16,-1314],[.01,-1349],[.1,-1393],[0,-1380]];
const d3Low=[[0,2587],[.08,2587],[-.02,2510],[.03,2520],[-.17,2449],[-.07,2459],[.15,2270],[.09,2382],[-.03,2408],[.1,2153],[.12,2102],[.05,2051],[-.17,1939],[-.03,1923],[.12,1872],[.2,1857],[.2,1908],[-.11,2000],[.18,1592],[-.02,1883]];
const d3Median=[[0,3571],[-.16,3489],[-.135,3454],[-.17,3300],[-.12,3341],[-.065,3300],[-.03,3275],[.04,3234],[.11,3173],[.17,3122],[-.04,3096],[0,3045],[.04,3071],[-.03,2969],[.02,2995],[-.145,2928],[-.065,2867],[.04,2841],[.02,2790],[.1,2765],[-.16,2704],[.12,2688],[-.01,2740],[.18,2638],[-.065,2561],[.18,2510],[.02,2485],[.11,2485],[.2,2485],[-.145,2485],[-.17,2382],[.02,2357],[.19,2316],[-.135,2280],[-.12,2245],[-.065,2163],[.12,2214],[.04,2025],[-.08,1959],[-.125,1776],[-.1,2900],[.07,2800],[-.05,2930],[.13,2600],[-.12,2620],[.05,2560],[.09,2910],[-.02,2640],[-.08,2800],[.15,2720],[.03,3170],[-.09,3200]];
const d3High=[[0,4066],[.12,3902],[.05,3877],[-.05,3734],[0,3724],[-.12,3657],[.14,3596],[.05,3571],[-.09,3489],[-.17,3479],[.1,3402],[.05,3367],[-.05,3300],[-.12,3198],[.1,3173],[0,3122],[-.12,3137],[-.13,2969],[.05,2979],[-.1,2908],[-.13,2867],[.11,2841],[.16,2841],[0,2638],[.03,2612],[.11,2510],[.16,2459]];
const d4Low=[[0,1547],[-.16,1360],[.09,1316],[.15,1307],[-.02,1244],[-.03,1156],[0,1049],[.12,996],[.04,960],[-.07,933],[.15,800],[.2,711],[0,711],[.2,462],[-.02,418],[.05,249],[.18,107],[-.125,844],[.05,800]];
const d4Median=[[-.14,3182],[0,2996],[-.16,2844],[-.18,2684],[-.07,2667],[-.03,2560],[-.12,2471],[.065,2507],[.16,2418],[-.04,2356],[.04,2267],[-.08,2178],[.12,2222],[-.015,2089],[-.18,1956],[-.12,1867],[.01,1911],[.09,1822],[-.04,1733],[.15,1707],[-.15,1644],[.065,1600],[.17,1511],[-.015,1422],[-.1,1351],[.04,1333],[.19,1289],[-.15,1156],[-.04,1138],[.12,1049],[.04,978],[-.12,818],[-.09,507],[.2,1422],[-.1,2000],[.05,2100],[.1,1750],[-.05,1900],[.08,2350],[-.13,1500],[.02,1650],[.13,1400],[-.07,1250],[.1,1200],[-.03,2450],[.05,1480]];
const d4High=[[0,4418],[-.11,3529],[.11,3556],[.06,3511],[-.05,3360],[.015,3200],[-.19,3156],[.135,3156],[-.065,3022],[.06,2933],[-.09,2800],[-.01,2756],[.1,2711],[-.04,2578],[.15,2578],[-.19,2507],[.015,2356],[-.13,2222],[-.09,2089],[-.13,2000],[-.01,1795],[.11,1662],[.17,1511],[.015,1493],[.17,1467],[.015,1333],[.11,1218],[.015,1244]];
// significance brackets [from,to,top,tip,label,labelX]
const d1Brackets=[[0,1,1.054,1.023,"0.14",.54],[0,2,1.175,1.144,"7e−05",1.06],[1,2,1.298,1.267,"0.0039",1.45]];
const d2Brackets=[[0,1,448,382,"3.5e−08",.58],[0,2,703,637,"5e−11",1.05],[1,2,963,897,"1.9e−05",1.58]];
const d3Brackets=[[0,1,4178,4101,"5.2e−10",.58],[0,2,4468,4392,"p &lt; 2.22e−16",1.13],[1,2,4764,4688,"3.1e−09",1.58]];
const d4Brackets=[[0,1,4604,4471,"2e−11",.56],[0,2,5120,4987,"p &lt; 2.22e−16",1.13],[1,2,5644,5511,"1.6e−08",1.58]];

// ---------- page geometry ----------
const W=1813,H=1401,FONT="Liberation Sans, Arial, sans-serif",INK="#222";
const dx=(a,b)=>[a/W,b/W], dy=(a,b)=>[1-b/H,1-a/H];
const layout={width:W,height:H,margin:{l:0,r:0,t:0,b:0},paper_bgcolor:"#fff",plot_bgcolor:"rgba(0,0,0,0)",autosize:false,
  font:{family:FONT,color:INK},boxmode:"overlay",shapes:[],annotations:[],hovermode:false,
  legend:{x:806/W,y:1-989/H,xanchor:"left",yanchor:"top",font:{size:14.5,color:INK},title:{text:"Group",font:{size:16,color:INK}},tracegroupgap:0,bgcolor:"rgba(0,0,0,0)"}};
const traces=[];
const hidden={visible:false,fixedrange:true};
function axes(n,x,y,xo,yo){
  layout["xaxis"+n]=Object.assign({domain:dx(x[0],x[1]),anchor:"y"+n,showgrid:false,zeroline:false},xo);
  layout["yaxis"+n]=Object.assign({domain:dy(y[0],y[1]),anchor:"x"+n,showgrid:false,zeroline:false},yo);
}
function txt(x,y,text,size,o){layout.annotations.push(Object.assign({xref:"paper",yref:"paper",x:x/W,y:1-y/H,text,showarrow:false,xanchor:"center",yanchor:"middle",font:{size,color:INK,family:FONT}},o||{}));}

// ---------- Panel A ----------
const cols=mRNAsiTenths.map((v,i)=>i);
const heatRows=[aDCs,APCinhibition,APCstimulation,Bcells,CCR,CD8Tcells,CheckPoint,Cytolytic,DCs,HLA,iDCs,InflammationPromoting,Macrophages,MastCells,MHCclassI,Neutrophils,NKcells,Parainflammation,pDCs,TcellInhibition,TcellStimulation,ThelperCells,Tfh,Th1cells,Th2cells,TIL,Treg,TypeIIFN,TypeIIIFN];
const labelFont={size:21.5,color:"#111",family:FONT};
const xcol={range:[-.5,cols.length-.5],visible:false,type:"linear"};
axes(1,[2,820],[181,811],xcol,{type:"category",autorange:false,range:[28.5,-.5],side:"right",ticks:"",ticklabelstandoff:1,tickfont:labelFont,showline:false,categoryorder:"array",categoryarray:rowLabels,tickmode:"array",tickvals:rowLabels,ticktext:rowLabels});
function bar(top,len,title,vals,size){return {x:1062/W,xanchor:"left",y:1-top/H,yanchor:"top",lenmode:"pixels",len,thicknessmode:"pixels",thickness:12,xpad:0,ypad:0,outlinewidth:0,
  tickmode:"array",tickvals:vals,ticks:"inside",ticklen:4,tickwidth:1,tickcolor:"#fff",tickfont:{size:size||10.5,color:"#333"},
  title:title?{text:"<b>"+title+"</b>",side:"top",font:{size:9.5,color:"#333"}}:undefined};}
traces.push({type:"heatmap",x:cols,y:rowLabels,z:heatRows,xaxis:"x",yaxis:"y",zmin:-4,zmax:4,
  colorscale:[[0,"#a9dbf7"],[.125,"#b8e1f8"],[.25,"#cfeaf9"],[.375,"#e6f4fb"],[.5,"#ffffff"],[.625,"#fddfd5"],[.75,"#fbb5a1"],[.875,"#f5684a"],[1,"#e8141c"]],
  colorbar:bar(171.5,50,null,[-4,-2,0,2,4],11.5)});
const annoRows=[
 {name:"mRNAsi",top:75.7,bot:93.3,labelX:823,labelY:78.5,z:mRNAsiTenths.map(v=>v/10),zmin:0,zmax:1,cs:[[0,"#ffffff"],[1,"#0c0c0c"]],cb:bar(243,73,"mRNAsi",[0,.2,.4,.6,.8,1])},
 {name:"StromalScore",top:94.3,bot:112.7,labelX:820.5,labelY:100,z:stromalHundreds.map(v=>v*100),zmin:-2000,zmax:0,cs:[[0,"#ffffff"],[1,"#8f3535"]],cb:bar(320,62,"StromalScore",[-2000,-1500,-1000,-500,0])},
 {name:"ImmuneScore",top:114,bot:131.7,labelX:823,labelY:120.5,z:immuneHundreds.map(v=>v*100),zmin:2000,zmax:4000,cs:[[0,"#ffffff"],[1,"#c28ec6"]],cb:bar(384.5,63.5,"ImmuneScore",[2000,2500,3000,3500,4000])},
 {name:"ESTIMATEScore",top:133.3,bot:151,labelX:823,labelY:141.7,z:estimateHundreds.map(v=>v*100),zmin:0,zmax:3000,cs:[[0,"#ffffff"],[1,"#4d8a8a"]],cb:bar(450,53,"ESTIMATEScore",[0,1000,2000,3000])},
 {name:"Stemness group",top:152.3,bot:178.3,labelX:822,labelY:167,z:stemnessGroup,zmin:0,zmax:1,cs:[[0,"#e4f3f8"],[1,"#2ca45d"]],cb:null}];
annoRows.forEach((r,i)=>{const n=i+2;
  axes(n,[2,820],[r.top,r.bot],xcol,{type:"category",visible:false});
  traces.push(Object.assign({type:"heatmap",x:cols,y:[r.name],z:[r.z],xaxis:"x"+n,yaxis:"y"+n,zmin:r.zmin,zmax:r.zmax,colorscale:r.cs},r.cb?{colorbar:r.cb}:{showscale:false}));
  txt(r.labelX,r.labelY,r.name,21.5,{xanchor:"left",font:labelFont});
});
[26.1,103.8].forEach(c=>layout.shapes.push({type:"line",xref:"x",yref:"paper",x0:c,x1:c,y0:1-75/H,y1:1-811/H,line:{color:"#000",width:3,dash:"3px,3px"}}));
layout.shapes.push({type:"rect",xref:"paper",yref:"paper",x0:1/W,x1:820.5/W,y0:1-74.5/H,y1:1-811/H,line:{color:"#333",width:2}});

// ---------- Panel B ----------
function scatterPanel(n,frameX,frameY,pts,fit,top,side,topY,sideX,xr,yr,tickvals,extraX){
  axes(n,frameX,frameY,Object.assign({range:xr,tickmode:"array",tickvals,tickangle:0,showline:true,mirror:true,linecolor:"#555",linewidth:1.6,ticks:"outside",ticklen:2,tickcolor:"#555",tickfont:{size:14,color:"#333"}},extraX||{}),
    {range:yr,tickmode:"array",tickvals:[0,.25,.5,.75,1],tickformat:".2f",showline:true,mirror:true,linecolor:"#555",linewidth:1.6,ticks:"outside",ticklen:2,tickcolor:"#555",tickfont:{size:13,color:"#333"}});
  axes(n+1,frameX,topY,Object.assign({range:xr},hidden),Object.assign({range:[0,1.04]},hidden));
  axes(n+2,sideX,frameY,Object.assign({range:[0,1.03]},hidden),Object.assign({range:yr},hidden));
  traces.push({type:"scatter",mode:"markers",x:pts.map(p=>p[0]),y:pts.map(p=>p[1]),xaxis:"x"+n,yaxis:"y"+n,marker:{size:5.5,color:"#0a0a0a"}});
  const fx=fit.map(r=>r[0]);
  traces.push({type:"scatter",mode:"lines",x:fx.concat(fx.slice().reverse()),y:fit.map(r=>r[2]).concat(fit.map(r=>r[3]).reverse()),fill:"toself",fillcolor:"rgba(228,228,232,.72)",line:{width:0},xaxis:"x"+n,yaxis:"y"+n});
  traces.push({type:"scatter",mode:"lines",x:fx,y:fit.map(r=>r[1]),line:{color:"#000",width:6},xaxis:"x"+n,yaxis:"y"+n});
  traces.push({type:"scatter",mode:"lines",x:top.map(p=>p[0]),y:top.map(p=>p[1]),fill:"tozeroy",fillcolor:"#659a9a",line:{color:"#000",width:2.6,shape:"spline"},xaxis:"x"+(n+1),yaxis:"y"+(n+1)});
  traces.push({type:"scatter",mode:"lines",x:side.map(p=>p[1]),y:side.map(p=>p[0]),fill:"tozerox",fillcolor:"#c78e8e",line:{color:"#000",width:2.6,shape:"spline"},xaxis:"x"+(n+2),yaxis:"y"+(n+2)});
}
scatterPanel(7,[1212.6,1433.6],[124.3,355.3],stromalPts,stromalFit,stromalTop,stromalSide,[79,122],[1437.3,1478.5],[-1971,466],[-.046,1.047],[-1500,-1000,-500,0],{ticklabelstandoff:-5});
scatterPanel(10,[1557.5,1770.7],[136.7,360],immunePts,immuneFit,immuneTop,immuneSide,[93,134],[1774,1812.5],[1422,4116],[-.049,1.046],[1500,2000,2500,3000,3500,4000],{ticklabelstandoff:-9});
scatterPanel(13,[1214.3,1426.7],[464.3,685],estimatePts,estimateFit,estimateTop,estimateSide,[421,462],[1429.3,1469],[37,4789],[-.046,1.048],[1000,2000,3000,4000],{ticklabelstandoff:-21,ticks:""});
txt(1182,233,"mRNAsi",16,{textangle:-90,font:{size:16,color:"#333",family:FONT}});
txt(1527,243,"mRNAsi",16,{textangle:-90,font:{size:16,color:"#333",family:FONT}});
txt(1181,567,"mRNAsi",15,{textangle:-90,font:{size:15,color:"#333",family:FONT}});
txt(1326,384,"Stromal Score",15.5);
txt(1674,380,"Immune Score",15.5);
txt(1303,695,"ESTIMATE Score",15);
txt(1209,676,"0",14);
txt(1416,97,"R=-0.36",12.5,{xanchor:"left"});txt(1416,113,"p=4.1e-06",12.5,{xanchor:"left"});
txt(1754,104,"R=-0.43",12.5,{xanchor:"left"});txt(1754,120,"p=4.8e-08",12.5,{xanchor:"left"});
txt(1408,434,"R=-0.43",12.5,{xanchor:"left"});txt(1408,449,"p=4.5e-08",12.5,{xanchor:"left"});

// ---------- Panel C ----------
const cellIdx=cellTypes.map((c,i)=>i);
axes(16,[119,808.7],[873.7,1198],{type:"linear",range:[-.6,21.6],showline:true,linecolor:"#000",linewidth:2.6,ticks:"",ticklabelstandoff:-6,tickangle:-45,tickfont:{size:20.5,color:"#222",style:"italic"},tickmode:"array",tickvals:cellIdx,ticktext:cellTypes},
  {range:[-.045,.935],tickmode:"array",tickvals:[0,.25,.5,.75],tickformat:".2f",showline:true,linecolor:"#000",linewidth:2.6,ticks:"",tickfont:{size:16,color:"#222"}});
[["high",-.16,highQ1,highMed,highQ3,highLo,highHi,"#1c6fb8"],["low",0,lowQ1,lowMed,lowQ3,lowLo,lowHi,"#e8b010"],["median",.16,medianQ1,medianMed,medianQ3,medianLo,medianHi,"#8a8a8a"]].forEach(g=>{
  traces.push({type:"box",name:g[0],x:cellIdx.map(i=>i+g[1]),q1:g[2],median:g[3],q3:g[4],lowerfence:g[5],upperfence:g[6],width:.17,xaxis:"x16",yaxis:"y16",fillcolor:g[7],line:{color:"#333",width:2.2},whiskerwidth:0,boxpoints:false,showlegend:true});
});
traces.push({type:"scatter",mode:"text",x:cellIdx.filter(i=>stars[i]).map(i=>i+.08),y:stars.filter(s=>s).map(()=>.905),text:stars.filter(s=>s),textposition:"middle center",textfont:{size:19,color:"#222"},xaxis:"x16",yaxis:"y16"});
txt(71.6,1009,"Cell composition",21,{textangle:-90});
txt(497,847,"TME Cell composition",21.5);

// ---------- Panel D ----------
const boxColors=["#1b93c9","#cf9a62","#126a35"];
function boxPanel(n,frameX,frameY,xr,yr,yticks,ytext,tickX,boxes,pts,brackets,yExtra){
  axes(n,frameX,frameY,{type:"linear",range:xr,tickmode:"array",tickvals:tickX,ticktext:groups,tickangle:0,showline:true,linecolor:"#000",linewidth:3,ticks:"",ticklabelstandoff:-6,tickfont:{size:15.5,color:"#222"}},
    Object.assign({range:yr,tickmode:"array",tickvals:yticks,ticktext:ytext,showline:true,linecolor:"#000",linewidth:3,ticks:"",tickfont:{size:16,color:"#222"}},yExtra||{}));
  boxes.forEach((b,i)=>{
    traces.push({type:"box",x:[i],lowerfence:[b[0]],q1:[b[1]],median:[b[2]],q3:[b[3]],upperfence:[b[4]],width:.705,xaxis:"x"+n,yaxis:"y"+n,fillcolor:boxColors[i],line:{color:"#1a1a1a",width:2.6},whiskerwidth:0,boxpoints:false,showlegend:false});
    traces.push({type:"scatter",mode:"lines",x:[i-.352,i+.352],y:[b[2],b[2]],line:{color:"#000",width:5.5},xaxis:"x"+n,yaxis:"y"+n});
  });
  pts.forEach((g,i)=>traces.push({type:"scatter",mode:"markers",x:g.map(p=>p[0]+i),y:g.map(p=>p[1]),marker:{size:5.5,color:"#000"},xaxis:"x"+n,yaxis:"y"+n}));
  const bx=[],by=[];
  brackets.forEach(b=>{bx.push(b[0],b[0],b[1],b[1],null);by.push(b[3],b[2],b[2],b[3],null);
    layout.annotations.push({xref:"x"+n,yref:"y"+n,x:b[5],y:b[2],text:b[4],showarrow:false,xanchor:"center",yanchor:"bottom",yshift:-1,font:{size:12,color:"#333",family:FONT}});});
  traces.push({type:"scatter",mode:"lines",x:bx,y:by,line:{color:"#333",width:1.6},connectgaps:false,xaxis:"x"+n,yaxis:"y"+n});
}
boxPanel(17,[1098.4,1376.6],[830.7,1059],[-.578,2.39],[-.0625,1.364],[0,.5,1],["0.0","0.5","1.0"],[.08,1.03,2.03],d1Boxes,[d1Low,d1Median,d1High],d1Brackets);
boxPanel(18,[1450,1746.9],[831.7,1059],[-.583,2.589],[-1908,1090],[-1000,0,1000],["−1000","0","1000"],[-.06,.97,1.94],d2Boxes,[d2Low,d2Median,d2High],d2Brackets);
boxPanel(19,[1107,1378],[1139.3,1368],[-.44,2.465],[1414,4917],[2000,3000,4000],["2000","3000","4000"],[-.05,1.03,2.04],d3Boxes,[d3Low,d3Median,d3High],d3Brackets);
boxPanel(20,[1430.7,1740.8],[1135,1365],[-.683,2.63],[-222,5911],[0,2000,4000],[".0","2000","4000"],[-.03,1.04,2.05],d4Boxes,[d4Low,d4Median,d4High],d4Brackets,{anchor:"free",position:1440/W});
txt(1049,951.7,"mRNAsi",14.5,{textangle:-90});
txt(1405,934,"StromalScore",15,{textangle:-90});
txt(1053,1241.7,"ImmuneScore",15,{textangle:-90});
txt(1388,1235.7,"ESTIMATEScore",15,{textangle:-90});

// panel letters
[["A",13,14],["B",1184,15],["C",13,850],["D",1033,850]].forEach(l=>txt(l[1],l[2],"<b>"+l[0]+"</b>",28,{font:{size:28,color:"#000",family:FONT}}));

// only the Panel C boxes appear in the legend
traces.forEach(t=>{if(t.showlegend===undefined)t.showlegend=false;t.hoverinfo="skip";});
Plotly.newPlot("chart",traces,layout,{staticPlot:true,displayModeBar:false});
</script></body></html>
